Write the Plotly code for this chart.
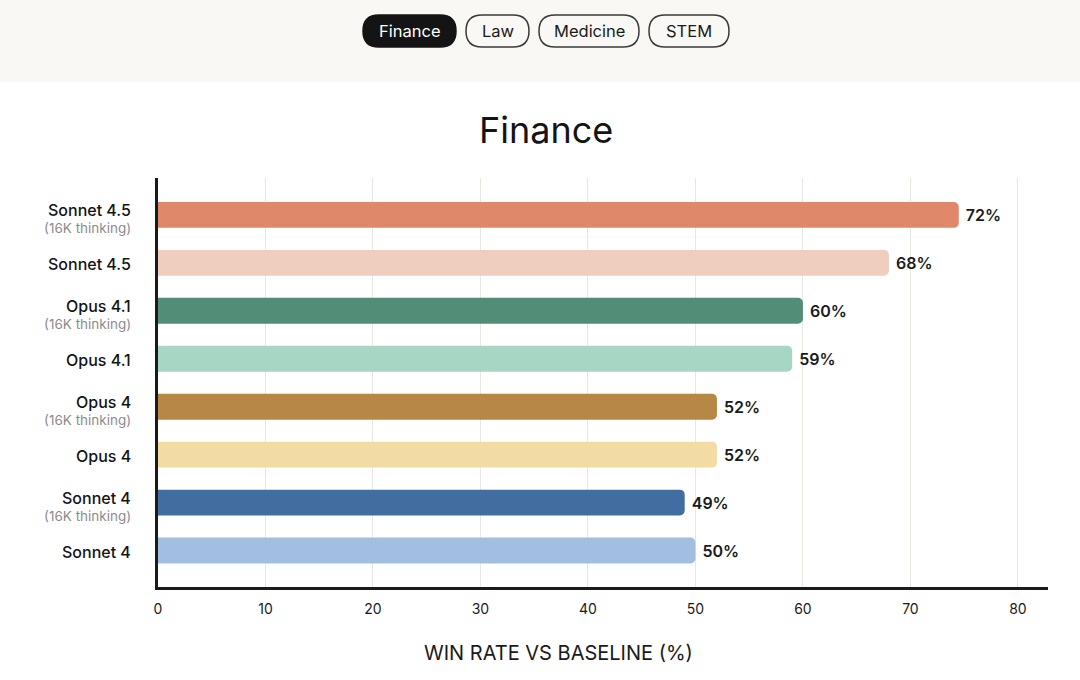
import plotly.graph_objects as go

# ---- data ----
models = ["Sonnet 4.5", "Sonnet 4.5", "Opus 4.1", "Opus 4.1",
          "Opus 4", "Opus 4", "Sonnet 4", "Sonnet 4"]
thinking = [True, False, True, False, True, False, True, False]
bar_values = [74.5, 68.0, 60.0, 59.0, 52.0, 52.0, 49.0, 50.0]
value_labels = ["72%", "68%", "60%", "59%", "52%", "52%", "49%", "50%"]
colors = ["#E0896A", "#EFCDBF", "#528D78", "#A8D6C5",
          "#B78845", "#F2DCA4", "#426DA0", "#A2BFE2"]
x_ticks = [0, 10, 20, 30, 40, 50, 60, 70, 80]
tabs = ["Finance", "Law", "Medicine", "STEM"]
active_tab = "Finance"
chart_title = "Finance"
x_title = "WIN RATE VS BASELINE (%)"
thinking_note = "(16K thinking)"

FONT = "Inter"
W, H = 1080, 680
ML, MR, MT, MB = 158, 32, 178, 93
PW, PH = W - ML - MR, H - MT - MB


def px(x):
    return (x - ML) / PW


def py(y):
    return (H - MB - y) / PH


ids = list(range(len(models)))

fig = go.Figure()
fig.add_trace(go.Bar(
    x=bar_values, y=ids, orientation="h",
    marker=dict(color=colors, line=dict(width=0)),
    width=0.54,
    text=["\u00a0" + s for s in value_labels], textposition="outside",
    textfont=dict(family=FONT, size=16, color="#1a1a1a", weight=600),
    cliponaxis=False, hoverinfo="skip",
))

shapes = []
# top band
shapes.append(dict(type="rect", xref="paper", yref="paper",
                   x0=px(0), x1=px(W), y0=py(0), y1=py(82),
                   fillcolor="#F9F8F4", line=dict(width=0), layer="below"))


def pill(x0, x1, y0, y1, r, fill, line_color):
    rx = r / PW
    ry = r / PH
    X0, X1, Y0, Y1 = px(x0), px(x1), py(y1), py(y0)  # Y0 bottom, Y1 top
    path = (f"M {X0+rx},{Y0} L {X1-rx},{Y0} Q {X1},{Y0} {X1},{Y0+ry} "
            f"L {X1},{Y1-ry} Q {X1},{Y1} {X1-rx},{Y1} L {X0+rx},{Y1} "
            f"Q {X0},{Y1} {X0},{Y1-ry} L {X0},{Y0+ry} Q {X0},{Y0} {X0+rx},{Y0} Z")
    return dict(type="path", xref="paper", yref="paper", path=path,
                fillcolor=fill, line=dict(color=line_color, width=1.5))


tab_bounds = [(363, 456), (466, 529), (539, 639), (649, 729)]
annotations = []
for name, (a, b) in zip(tabs, tab_bounds):
    active = name == active_tab
    shapes.append(pill(a, b, 15, 47, 16,
                       "#141414" if active else "rgba(0,0,0,0)",
                       "#141414" if active else "#3a3a3a"))
    annotations.append(dict(xref="paper", yref="paper", x=px((a + b) / 2), y=py(31),
                            text=name, showarrow=False,
                            font=dict(family=FONT, size=16.5,
                                      color="#ffffff" if active else "#1a1a1a"),
                            xanchor="center", yanchor="middle"))

# category labels
for i, (m, t) in zip(ids, zip(models, thinking)):
    annotations.append(dict(xref="paper", yref="y", x=px(133), y=i,
                            yshift=5 if t else -1,
                            text=m, showarrow=False,
                            font=dict(family=FONT, size=16, color="#141414", weight=500),
                            xanchor="right", yanchor="middle"))
    if t:
        annotations.append(dict(xref="paper", yref="y", x=px(133), y=i, yshift=-13,
                                text=thinking_note, showarrow=False,
                                font=dict(family=FONT, size=13.5, color="#8c8c8c"),
                                xanchor="right", yanchor="middle"))

annotations.append(dict(xref="paper", yref="paper", x=px(546), y=py(130),
                        text=chart_title, showarrow=False,
                        font=dict(family=FONT, size=36, color="#141414"),
                        xanchor="center", yanchor="middle"))
annotations.append(dict(xref="paper", yref="paper", x=px(558), y=py(653),
                        text=x_title, showarrow=False,
                        font=dict(family=FONT, size=20, color="#1a1a1a"),
                        xanchor="center", yanchor="middle"))

fig.update_layout(
    width=W, height=H,
    margin=dict(l=ML, r=MR, t=MT, b=MB, autoexpand=False),
    paper_bgcolor="#ffffff", plot_bgcolor="#ffffff",
    showlegend=False, barcornerradius=5,
    shapes=shapes, annotations=annotations,
    font=dict(family=FONT, color="#1a1a1a"),
    xaxis=dict(range=[0, 82.8], tickvals=x_ticks, ticktext=[str(v) for v in x_ticks],
               showgrid=True, gridcolor="#E9E7E0", gridwidth=1,
               showline=True, linecolor="#1a1a1a", linewidth=2.5,
               zeroline=False, ticks="", ticklabelstandoff=7,
               tickfont=dict(family=FONT, size=14, color="#1a1a1a"),
               fixedrange=True),
    yaxis=dict(range=[7.76, -0.77], tickvals=ids, showticklabels=False,
               showgrid=False, showline=True, linecolor="#1a1a1a", linewidth=2.5,
               zeroline=False, ticks="", fixedrange=True),
)

fig.write_html("out.html", config={"displayModeBar": False},
               post_script="document.body.style.margin='0';document.body.style.overflow='hidden';")
